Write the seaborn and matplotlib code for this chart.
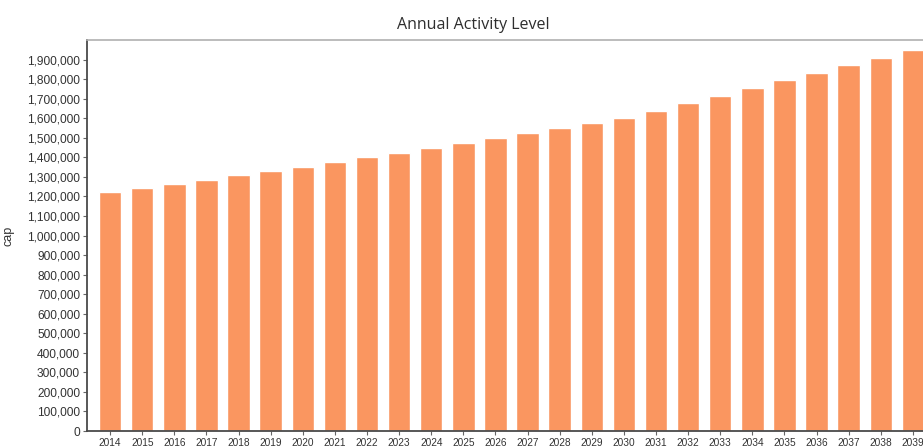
import matplotlib
matplotlib.use("Agg")
import matplotlib.pyplot as plt
import seaborn as sns
import pandas as pd
from matplotlib.ticker import FuncFormatter, MultipleLocator

years = [str(y) for y in range(2014, 2040)]
activity = [1220000, 1243000, 1265000, 1285000, 1307000, 1328000, 1350000,
            1374000, 1399000, 1423000, 1449000, 1472000, 1498000, 1522000,
            1550000, 1574000, 1600000, 1637000, 1677000, 1716000, 1753000,
            1794000, 1831000, 1871000, 1910000, 1949000]

df = pd.DataFrame({"year": years, "cap": activity})

sns.set_style("white")
plt.rcParams['font.family'] = ['Liberation Sans', 'DejaVu Sans']

fig = plt.figure(figsize=(9.23, 4.48), dpi=100)
ax = fig.add_axes([87/923, 1 - 431/448, (936 - 87)/923, (431 - 40)/448])

sns.barplot(data=df, x="year", y="cap", color="#FA9660", saturation=1,
            width=0.7, ax=ax, order=years)

ax.set_xlim(-0.72, 25.72)
ax.set_ylim(0, 2000000)
ax.set_yticks(list(range(0, 1900001, 100000)))
ax.yaxis.set_major_formatter(FuncFormatter(lambda v, p: f"{int(v):,}"))
ax.set_ylim(0, 2000000)

ax.set_xlabel("")
ax.set_ylabel("cap", fontsize=9, color="#333333")
ax.yaxis.set_label_coords(-0.085, 0.5)

ax.tick_params(axis="y", which="major", length=3, width=0.8, color="#666666",
               labelsize=8.6, labelcolor="#333333", pad=2, left=True)
ax.tick_params(axis="x", which="major", length=3, width=0.8, color="#666666",
               labelsize=7.3, labelcolor="#333333", pad=2, bottom=True)

for side in ["left", "bottom"]:
    ax.spines[side].set_color("#4a4a4a")
    ax.spines[side].set_linewidth(1.3)
ax.spines["top"].set_color("#b0b0b0")
ax.spines["top"].set_linewidth(1.2)
ax.spines["right"].set_visible(False)

fig.text(473/923, 1 - 25/448, "Annual Activity Level", ha="center", va="center",
         fontsize=11.5, color="#2e2e2e", family=["Open Sans", "DejaVu Sans"])

fig.savefig("out.png", dpi=100, facecolor="white")
